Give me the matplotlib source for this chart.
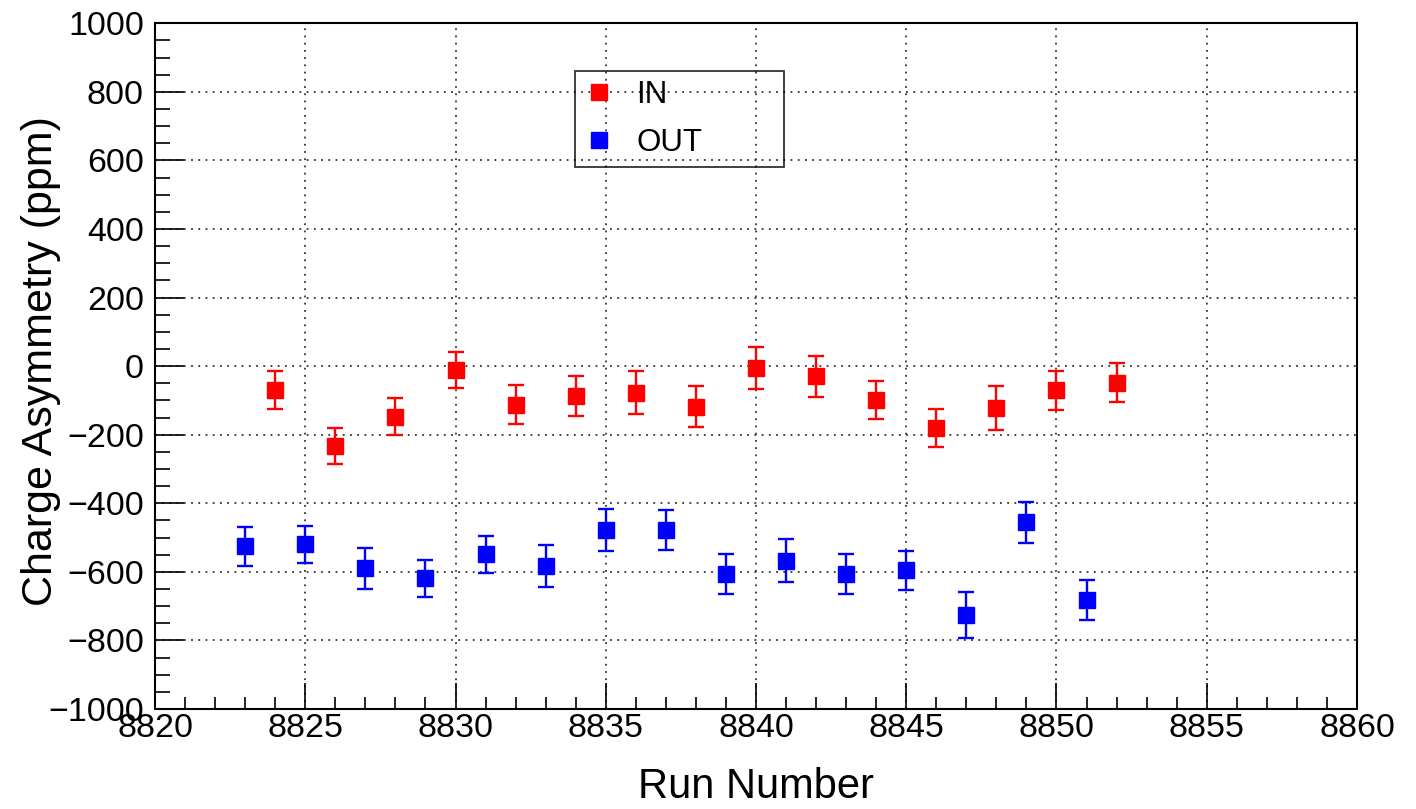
import numpy as np
import matplotlib
matplotlib.use("Agg")
import matplotlib.pyplot as plt
from matplotlib.lines import Line2D
from matplotlib.ticker import MultipleLocator

plt.rcParams["font.family"] = ["Liberation Sans", "DejaVu Sans"]

# charge asymmetry per run, IN / OUT half-wave-plate states (ppm)
run_in = [8824, 8826, 8828, 8830, 8832, 8834, 8836, 8838,
          8840, 8842, 8844, 8846, 8848, 8850, 8852]
asym_in = [-70, -233, -147, -12, -112, -88, -77, -118,
           -6, -30, -99, -181, -123, -71, -48]
err_in = [55, 53, 55, 52, 58, 58, 62, 59,
          62, 59, 56, 56, 64, 58, 58]

run_out = [8823, 8825, 8827, 8829, 8831, 8833, 8835, 8837,
           8839, 8841, 8843, 8845, 8847, 8849, 8851]
asym_out = [-526, -520, -590, -619, -549, -584, -479, -479,
            -607, -567, -607, -596, -725, -456, -683]
err_out = [58, 55, 61, 55, 55, 61, 61, 58,
           58, 64, 58, 56, 67, 61, 58]

fig = plt.figure(figsize=(14.16, 8.09), dpi=100)
ax = fig.add_axes([0.1095, 0.1236, 0.8488, 0.8476])

style = dict(fmt="s", ms=11.5, elinewidth=1.7, capsize=6, capthick=1.7, zorder=3)
ax.errorbar(run_in, asym_in, yerr=err_in, color="#ff0000", **style)
ax.errorbar(run_out, asym_out, yerr=err_out, color="#0000ff", **style)

ax.set_xlim(8820, 8860)
ax.set_ylim(-1000, 1000)
ax.xaxis.set_major_locator(MultipleLocator(5))
ax.xaxis.set_minor_locator(MultipleLocator(1))
ax.yaxis.set_major_locator(MultipleLocator(200))
ax.yaxis.set_minor_locator(MultipleLocator(50))
ax.ticklabel_format(useOffset=False, style="plain")

ax.grid(True, which="major", color="0.2", lw=1.3, ls=(0, (1, 3)))
ax.set_axisbelow(True)

ax.tick_params(axis="both", which="both", direction="in", width=1.2,
               top=False, right=False, labelsize=24.5)
ax.tick_params(axis="x", which="major", length=19, pad=3)
ax.tick_params(axis="x", which="minor", length=9)
ax.tick_params(axis="y", which="major", length=21, pad=8)
ax.tick_params(axis="y", which="minor", length=10.5)
for sp in ax.spines.values():
    sp.set_linewidth(1.5)

ax.set_xlabel("Run Number", fontsize=30)
ax.set_ylabel("Charge Asymmetry (ppm)", fontsize=31)
ax.xaxis.set_label_coords(0.5, -0.085)
ax.yaxis.set_label_coords(-0.078, 0.507)

handles = [
    Line2D([], [], ls="none", marker="s", ms=11.5, color="#ff0000"),
    Line2D([], [], ls="none", marker="s", ms=11.5, color="#0000ff"),
]
# fixed-width legend box, stretched across the given bbox
leg = ax.legend(handles, ["IN", "OUT"], loc="upper left",
                bbox_to_anchor=(0.349, 0.0, 0.174, 0.9305), mode="expand",
                fontsize=22.5, frameon=True, fancybox=False, borderpad=0.28,
                labelspacing=0.58, handlelength=1.0, handletextpad=0.7,
                borderaxespad=0)
frame = leg.get_frame()
frame.set_facecolor("none")
frame.set_edgecolor("black")
frame.set_linewidth(1.3)

fig.savefig("out.png", dpi=100)
